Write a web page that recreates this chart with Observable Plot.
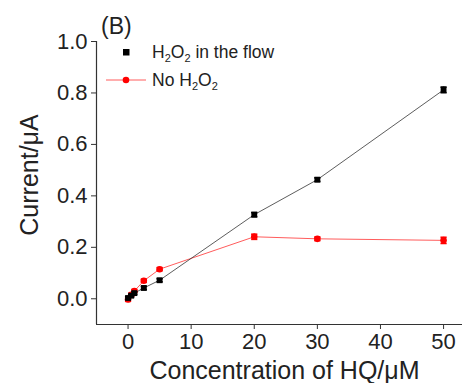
<!DOCTYPE html>
<html>
<head>
<meta charset="utf-8">
<script src="https://cdn.jsdelivr.net/npm/d3@7"></script>
<script src="https://cdn.jsdelivr.net/npm/@observablehq/plot@0.6"></script>
<style>
  body { margin: 0; background: #fff; }
  #wrap { position: relative; width: 462px; height: 383px; font-family: "Liberation Sans", Arial, sans-serif; }
  #wrap svg.overlay { position: absolute; left: 0; top: 0; pointer-events: none; }
</style>
</head>
<body>
<div id="wrap"></div>
<script>
// Data
const concentration = [0, 0.5, 1, 2.5, 5, 20, 30, 50];
const withH2O2      = [0.003, 0.012, 0.022, 0.042, 0.072, 0.327, 0.463, 0.812];
const withH2O2Err   = [0.005, 0.005, 0.005, 0.006, 0.006, 0.008, 0.007, 0.011];
const noH2O2        = [-0.003, 0.015, 0.030, 0.070, 0.115, 0.241, 0.233, 0.227];
const noH2O2Err     = [0.007, 0.006, 0.006, 0.006, 0.006, 0.010, 0.007, 0.012];
const xTicks = [0, 10, 20, 30, 40, 50];
const yTicks = [0.0, 0.2, 0.4, 0.6, 0.8, 1.0];
const xDomain = [-5, 53];
const yDomain = [-0.1, 1.0];

const black = concentration.map((c, i) => ({x: c, y: withH2O2[i], e: withH2O2Err[i]}));
const red = concentration.map((c, i) => ({x: c, y: noH2O2[i], e: noH2O2Err[i]}));

const RED = "#ff0000";
const RED_LINE = "#ff5c5c";

// horizontal cap symbol for error bars
const capSymbol = {
  draw(context, size) {
    const w = Math.sqrt(size);
    context.moveTo(-w / 2, 0);
    context.lineTo(w / 2, 0);
  }
};

function errMarks(data, color) {
  return [
    Plot.ruleX(data, {x: "x", y1: d => d.y - d.e, y2: d => d.y + d.e, stroke: color, strokeWidth: 1.6}),
    Plot.dot(data, {x: "x", y: d => d.y + d.e, symbol: capSymbol, r: 3.5, stroke: color, strokeWidth: 1.6}),
    Plot.dot(data, {x: "x", y: d => d.y - d.e, symbol: capSymbol, r: 3.5, stroke: color, strokeWidth: 1.6})
  ];
}

const chart = Plot.plot({
  width: 462,
  height: 383,
  marginLeft: 96,
  marginRight: 0,
  marginTop: 41,
  marginBottom: 59,
  style: {fontFamily: "'Liberation Sans', Arial, sans-serif", color: "#222", background: "white"},
  x: {domain: xDomain},
  y: {domain: yDomain},
  marks: [
    Plot.axisX({ticks: xTicks, tickSize: 5, tickPadding: 4, fontSize: 22, label: null, stroke: "#333"}),
    Plot.axisY({ticks: yTicks, tickSize: 5, tickPadding: 4, fontSize: 22, label: null, tickFormat: d3.format(".1f"), stroke: "#333"}),
    Plot.ruleX([xDomain[0]], {y1: yDomain[0], y2: yDomain[1], stroke: "#333", strokeWidth: 1.2}),
    Plot.ruleY([yDomain[0]], {x1: xDomain[0], x2: xDomain[1], stroke: "#333", strokeWidth: 1.2}),
    Plot.line(red, {x: "x", y: "y", stroke: RED_LINE, strokeWidth: 1}),
    Plot.line(black, {x: "x", y: "y", stroke: "#333", strokeWidth: 0.8}),
    ...errMarks(red, RED),
    Plot.dot(red, {x: "x", y: "y", r: 3.3, fill: RED}),
    ...errMarks(black, "black"),
    Plot.dot(black, {x: "x", y: "y", symbol: "square", r: 3.3, fill: "black"})
  ]
});
const wrap = document.getElementById("wrap");
wrap.appendChild(chart);

// overlay: panel letter, legend, axis titles
const ns = "http://www.w3.org/2000/svg";
const ov = document.createElementNS(ns, "svg");
ov.setAttribute("class", "overlay");
ov.setAttribute("width", 462);
ov.setAttribute("height", 383);
ov.innerHTML = `
  <g font-family="'Liberation Sans', Arial, sans-serif" fill="#222">
    <text x="101" y="34" font-size="23">(B)</text>
    <rect x="123" y="49" width="6.5" height="6.5" fill="black"/>
    <text x="152" y="58" font-size="17.5">H<tspan font-size="11" dy="4">2</tspan><tspan dy="-4">O</tspan><tspan font-size="11" dy="4">2</tspan><tspan dy="-4"> in the flow</tspan></text>
    <line x1="106" x2="146" y1="80" y2="80" stroke="${RED_LINE}" stroke-width="1"/>
    <circle cx="126" cy="80" r="3.3" fill="${RED}"/>
    <text x="152" y="86" font-size="17.5">No H<tspan font-size="11" dy="4">2</tspan><tspan dy="-4">O</tspan><tspan font-size="11" dy="4">2</tspan></text>
    <text x="284.5" y="379" font-size="25" text-anchor="middle">Concentration of HQ/μM</text>
    <text transform="translate(38,175) rotate(-90)" font-size="25" text-anchor="middle">Current/μA</text>
  </g>`;
wrap.appendChild(ov);
</script>
</body>
</html>
